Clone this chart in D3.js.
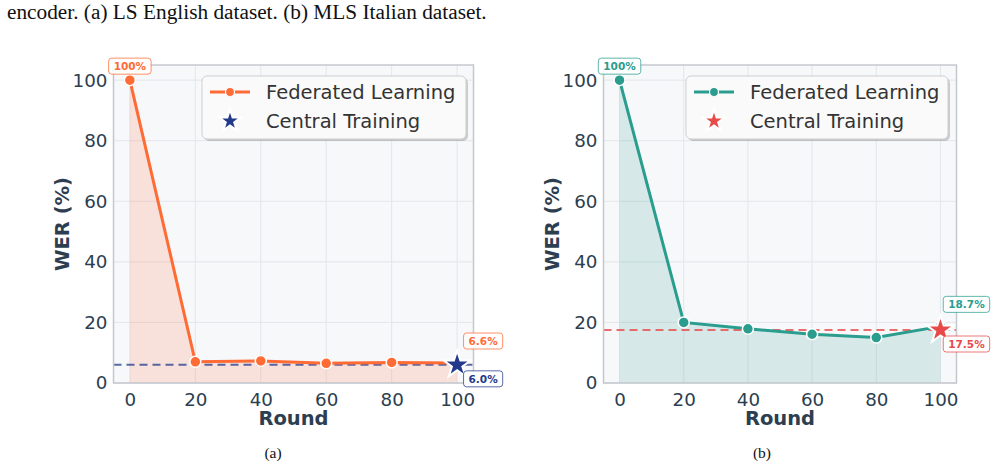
<!DOCTYPE html>
<html>
<head>
<meta charset="utf-8">
<script src="https://cdn.jsdelivr.net/npm/d3@7"></script>
<style>
  body { margin: 0; background: #fff; }
  svg { display: block; }
</style>
</head>
<body>
<svg id="chart" width="1000" height="467"></svg>
<script>
// data
const rounds = [0, 20, 40, 60, 80, 100];
const werLS = [100, 7.0, 7.3, 6.5, 6.8, 6.6];      // (a) LS English, federated
const centralLS = 6.0;
const werMLS = [100, 20.0, 17.9, 16.1, 15.0, 18.7]; // (b) MLS Italian, federated
const centralMLS = 17.5;
const xTicks = [0, 20, 40, 60, 80, 100];
const yTicks = [0, 20, 40, 60, 80, 100];
const legendLabels = ['Federated Learning', 'Central Training'];

const svg = d3.select('#chart');
const tickColor = '#2c3e50';

svg.append('text')
   .attr('x', 7).attr('y', 19)
   .attr('font-family', 'Liberation Serif, Times New Roman, serif')
   .attr('font-size', 21.3)
   .attr('fill', '#111')
   .text('encoder. (a) LS English dataset. (b) MLS Italian dataset.');

const panels = [
  {id: 'a', vals: werLS, central: centralLS, line: '#ff6b35', star: '#233a8c', dash: 'rgba(35,58,140,0.75)',
   fill: 'rgba(255,107,53,0.16)', left: 113.5, right: 473.5, legX: 202, legW: 264, capX: 273, caption: '(a)'},
  {id: 'b', vals: werMLS, central: centralMLS, line: '#2a9d8f', star: '#e84a4a', dash: 'rgba(232,74,74,0.8)',
   fill: 'rgba(42,157,143,0.16)', left: 603.5, right: 956.5, legX: 686, legW: 262, capX: 762, caption: '(b)'}
];

const plotTop = 65, plotBottom = 383;

panels.forEach(p => {
  const x = d3.scaleLinear().domain([-5, 105]).range([p.left, p.right]);
  const y = d3.scaleLinear().domain([0, 105]).range([plotBottom, plotTop]);
  const g = svg.append('g');

  g.append('rect')
   .attr('x', p.left).attr('y', plotTop)
   .attr('width', p.right - p.left).attr('height', plotBottom - plotTop)
   .attr('fill', '#f7f8fa');

  // grid
  g.selectAll('line.gx').data(xTicks).enter().append('line')
   .attr('x1', d => x(d)).attr('x2', d => x(d))
   .attr('y1', plotTop).attr('y2', plotBottom)
   .attr('stroke', '#e3e6ea').attr('stroke-width', 1);
  g.selectAll('line.gy').data(yTicks).enter().append('line')
   .attr('x1', p.left).attr('x2', p.right)
   .attr('y1', d => y(d)).attr('y2', d => y(d))
   .attr('stroke', '#e3e6ea').attr('stroke-width', 1);

  const pts = rounds.map((r, i) => ({r: r, v: p.vals[i]}));

  const area = d3.area().x(d => x(d.r)).y0(y(0)).y1(d => y(d.v));
  g.append('path').datum(pts).attr('d', area).attr('fill', p.fill);

  // central training reference line
  g.append('line')
   .attr('x1', p.left).attr('x2', p.right)
   .attr('y1', y(p.central)).attr('y2', y(p.central))
   .attr('stroke', p.dash).attr('stroke-width', 2)
   .attr('stroke-dasharray', '8,5');

  const line = d3.line().x(d => x(d.r)).y(d => y(d.v));
  g.append('path').datum(pts).attr('d', line)
   .attr('fill', 'none').attr('stroke', p.line).attr('stroke-width', 3);

  g.selectAll('circle.pt').data(pts).enter().append('circle')
   .attr('cx', d => x(d.r)).attr('cy', d => y(d.v)).attr('r', 5.5)
   .attr('fill', p.line).attr('stroke', '#fff').attr('stroke-width', 1.5);

  const starPath = d3.symbol().type(d3.symbolStar).size(230);
  g.append('path')
   .attr('d', starPath())
   .attr('transform', `translate(${x(100)},${y(p.central)})`)
   .attr('fill', p.star).attr('stroke', '#fff').attr('stroke-width', 2);

  // spines
  g.append('rect')
   .attr('x', p.left).attr('y', plotTop)
   .attr('width', p.right - p.left).attr('height', plotBottom - plotTop)
   .attr('fill', 'none').attr('stroke', '#c3c8ce').attr('stroke-width', 1.5);

  // axes
  const xAxis = g.append('g').attr('transform', `translate(0,${plotBottom})`)
    .call(d3.axisBottom(x).tickValues(xTicks).tickSize(0).tickPadding(10));
  const yAxis = g.append('g').attr('transform', `translate(${p.left},0)`)
    .call(d3.axisLeft(y).tickValues(yTicks).tickSize(0).tickPadding(6));
  [xAxis, yAxis].forEach(a => {
    a.select('.domain').remove();
    a.selectAll('text').attr('font-family', 'DejaVu Sans, sans-serif')
     .attr('font-size', 18.3).attr('fill', tickColor);
  });

  g.append('text')
   .attr('x', (p.left + p.right) / 2).attr('y', 425)
   .attr('text-anchor', 'middle')
   .attr('font-family', 'DejaVu Sans, sans-serif').attr('font-weight', 'bold')
   .attr('font-size', 19.5).attr('fill', tickColor)
   .text('Round');

  g.append('text')
   .attr('transform', `translate(${p.left - 45},${(plotTop + plotBottom) / 2}) rotate(-90)`)
   .attr('text-anchor', 'middle')
   .attr('font-family', 'DejaVu Sans, sans-serif').attr('font-weight', 'bold')
   .attr('font-size', 19.5).attr('fill', tickColor)
   .text('WER (%)');

  // value badges
  const badges = [
    {txt: p.vals[0] + '%', cx: x(0), cy: y(p.vals[0]) - 14, c: p.line},
    {txt: p.vals[5].toFixed(1) + '%', cx: x(100) + 26, cy: y(p.vals[5]) - 22, c: p.line},
    {txt: p.central.toFixed(1) + '%', cx: x(100) + 26, cy: y(p.central) + 14, c: p.star}
  ];
  badges.forEach(b => {
    const t = g.append('text')
      .attr('x', b.cx).attr('y', b.cy + 4)
      .attr('text-anchor', 'middle')
      .attr('font-family', 'DejaVu Sans, sans-serif').attr('font-weight', 'bold')
      .attr('font-size', 10.5).attr('fill', b.c)
      .text(b.txt);
    const w = t.node().getComputedTextLength() + 10;
    g.insert('rect', () => t.node())
      .attr('x', b.cx - w / 2).attr('y', b.cy - 8)
      .attr('width', w).attr('height', 16).attr('rx', 3)
      .attr('fill', 'rgba(255,255,255,0.92)')
      .attr('stroke', b.c).attr('stroke-opacity', 0.75).attr('stroke-width', 1);
  });

  // legend
  const lg = g.append('g').attr('transform', `translate(${p.legX},76)`);
  lg.append('rect').attr('x', 2).attr('y', 2).attr('width', p.legW).attr('height', 63)
    .attr('rx', 5).attr('fill', 'rgba(0,0,0,0.18)');
  lg.append('rect').attr('width', p.legW).attr('height', 63).attr('rx', 5)
    .attr('fill', '#fafafa').attr('stroke', '#cfcfcf').attr('stroke-width', 1);
  lg.append('line').attr('x1', 8).attr('x2', 48).attr('y1', 16).attr('y2', 16)
    .attr('stroke', p.line).attr('stroke-width', 3);
  lg.append('circle').attr('cx', 28).attr('cy', 16).attr('r', 4.5)
    .attr('fill', p.line).attr('stroke', '#fff').attr('stroke-width', 1.2);
  lg.append('path').attr('d', d3.symbol().type(d3.symbolStar).size(150)())
    .attr('transform', 'translate(28,45)')
    .attr('fill', p.star).attr('stroke', '#fff').attr('stroke-width', 2);
  lg.selectAll('text').data(legendLabels).enter().append('text')
    .attr('x', 64).attr('y', (d, i) => 23 + i * 29)
    .attr('font-family', 'DejaVu Sans, sans-serif').attr('font-size', 19.5)
    .attr('fill', '#333').text(d => d);

  svg.append('text')
   .attr('x', p.capX).attr('y', 458)
   .attr('text-anchor', 'middle')
   .attr('font-family', 'Liberation Serif, Times New Roman, serif')
   .attr('font-size', 15.5).attr('fill', '#111')
   .text(p.caption);
});
</script>
</body>
</html>
